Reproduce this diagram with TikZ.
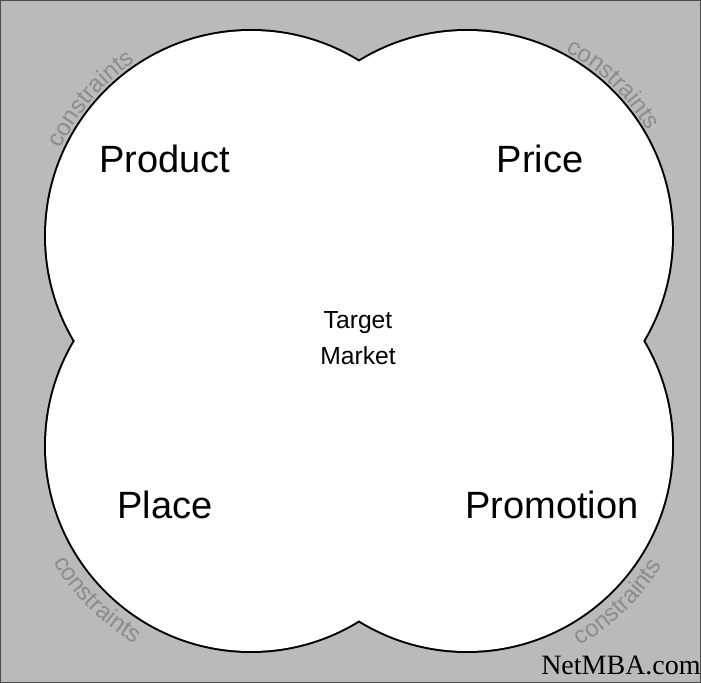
\documentclass[tikz,border=0pt]{standalone}
\usepackage{fontspec}
\setmainfont{Liberation Sans}
\newfontfamily\siteserif{Liberation Serif}
\usetikzlibrary{decorations.text}

\begin{document}
\begin{tikzpicture}[x=0.75pt, y=0.75pt,
    ring/.style={draw=black, line width=3pt},
    pfour/.style={font=\fontsize{28.5}{30}\selectfont, anchor=base},
    edgetext/.style={decorate, decoration={text along path, text align=center,
        text={|\fontsize{18}{18}\selectfont\color{black!45}|constraints}}}]
  \useasboundingbox (0,0) rectangle (701,683);
  \fill[black!27] (0,0) rectangle (701,683);
  \draw[black!70, line width=1pt] (0.5,0.5) rectangle (700.5,682.5);

  % centres of the four circles
  \coordinate (tl) at (251,447);
  \coordinate (tr) at (467,447);
  \coordinate (bl) at (251,237);
  \coordinate (br) at (467,237);

  % outline first, then white fill hides the inner half
  \foreach \c in {tl,tr,bl,br}
    \draw[ring] (\c) circle[radius=205];
  \foreach \c in {tl,tr,bl,br}
    \fill[white] (\c) circle[radius=205];

  % words round the outside
  \path[edgetext] (tl) ++(160:209) arc[start angle=160, end angle=119, radius=209];
  \path[edgetext] (tr) ++(70:209) arc[start angle=70, end angle=22, radius=209];
  \path[edgetext] (bl) ++(200:229) arc[start angle=200, end angle=250, radius=229];
  \path[edgetext] (br) ++(288:229) arc[start angle=288, end angle=340, radius=229];

  \node[pfour] (prod) at (165,510) {Product};
  \node[pfour] (price) at (540,510) {Price};
  \node[pfour] (place) at (165,164) {Place};
  \node[pfour] (promo) at (552,164) {Promotion};

  \node[font=\fontsize{18.5}{27}\selectfont, align=center, inner sep=0pt] (tm) at (358,345) {Target\\Market};

  \node[font=\siteserif\fontsize{21}{21}\selectfont, anchor=base west, inner sep=0pt] (site) at (541,8) {NetMBA.com};
\end{tikzpicture}
\end{document}
